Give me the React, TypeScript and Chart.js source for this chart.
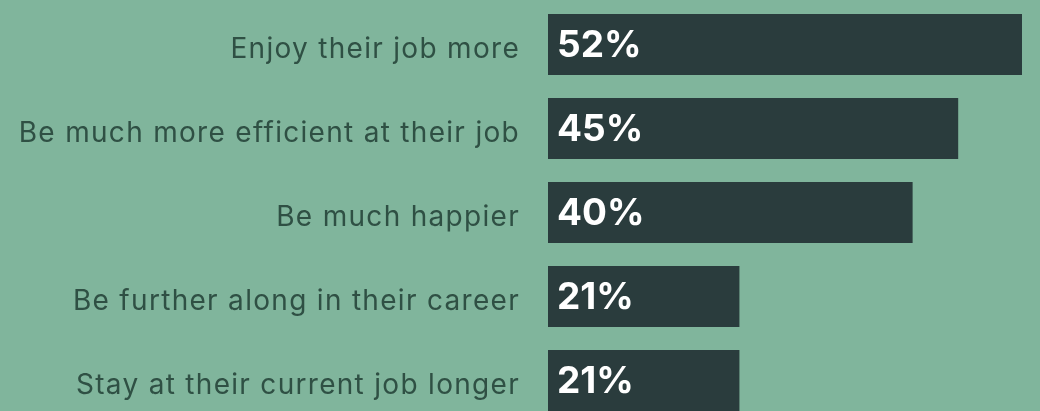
import React, { useEffect, useRef } from "react";
import { Chart, registerables } from "chart.js";

Chart.register(...registerables);

const categories = [
  "Enjoy their job more",
  "Be much more efficient at their job",
  "Be much happier",
  "Be further along in their career",
  "Stay at their current job longer",
];
const values = [52, 45, 40, 21, 21];

const BG = "#80b59c";
const BAR = "#2a3c3d";
const LABEL = "#2f5044";

const spacing = {
  id: "spacing",
  beforeDraw(chart: any) {
    (chart.ctx as any).letterSpacing = "1.3px";
  },
  afterDraw(chart: any) {
    (chart.ctx as any).letterSpacing = "0px";
  },
};

const valueLabels = {
  id: "valueLabels",
  afterDatasetsDraw(chart: any) {
    const ctx = chart.ctx;
    const meta = chart.getDatasetMeta(0);
    ctx.save();
    (ctx as any).letterSpacing = "0px";
    ctx.fillStyle = "#ffffff";
    ctx.font = "bold 37px Inter, Lato, sans-serif";
    ctx.textAlign = "left";
    ctx.textBaseline = "middle";
    meta.data.forEach((bar: any, i: number) => {
      ctx.fillText(values[i] + "%", bar.base + 9, bar.y + 1);
    });
    ctx.restore();
  },
};

export default function App() {
  const ref = useRef<HTMLCanvasElement>(null);
  useEffect(() => {
    document.body.style.margin = "0";
    document.body.style.overflow = "hidden";
    const chart = new Chart(ref.current!, {
      type: "bar",
      data: {
        labels: categories,
        datasets: [
          {
            data: values,
            backgroundColor: BAR,
            borderWidth: 0,
            barPercentage: 61 / 84,
            categoryPercentage: 1,
          },
        ],
      },
      options: {
        indexAxis: "y",
        animation: false,
        responsive: false,
        maintainAspectRatio: false,
        layout: { padding: { top: 2.5, bottom: 0.5, right: 18, left: 0 } },
        plugins: {
          legend: { display: false },
          tooltip: { enabled: false },
        },
        scales: {
          x: { display: false, min: 0, max: 52 },
          y: {
            grid: { display: false, drawTicks: false },
            border: { display: false },
            ticks: {
              color: LABEL,
              padding: 28,
              labelOffset: 5,
              font: { family: "Inter, Lato, sans-serif", size: 28 },
            },
            afterFit: (scale: any) => {
              scale.width = 548;
              scale.paddingTop = 0;
              scale.paddingBottom = 0;
            },
          },
        },
      },
      plugins: [spacing, valueLabels],
    });
    return () => chart.destroy();
  }, []);
  return (
    <div
      style={{
        position: "fixed",
        left: 0,
        top: 0,
        width: 1040,
        height: 411,
        overflow: "hidden",
        background: BG,
      }}
    >
      <canvas ref={ref} width={1040} height={423} style={{ display: "block", width: 1040, height: 423 }} />
    </div>
  );
}
